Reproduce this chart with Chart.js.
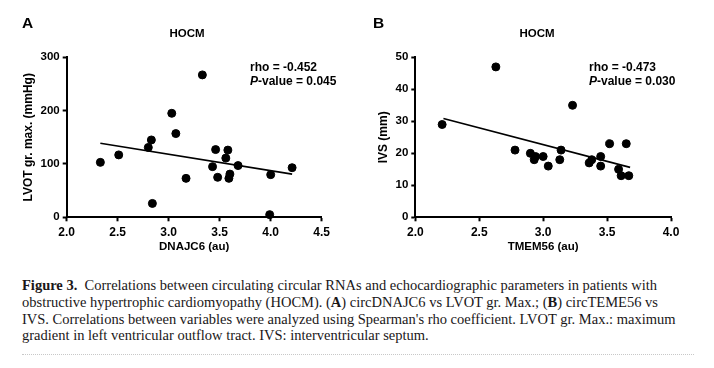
<!DOCTYPE html>
<html>
<head>
<meta charset="utf-8">
<script src="https://cdn.jsdelivr.net/npm/chart.js@4/dist/chart.umd.min.js"></script>
<style>
  body { margin: 0; background: #fff; width: 714px; height: 368px; position: relative; overflow: hidden; }
  .panel { position: absolute; top: 0; }
  .lbl { position: absolute; font-family: 'Liberation Sans', Arial, sans-serif; font-weight: bold; color: #000; white-space: nowrap; }
  .letter { font-size: 15.5px; top: 14px; }
  .ttl { font-size: 11.5px; top: 27px; width: 100px; text-align: center; }
  .stat { font-size: 12px; line-height: 14px; }
  .caption { position: absolute; left: 22px; top: 277px; width: 690px; font-family: 'Liberation Serif', 'Times New Roman', serif; font-size: 14.5px; line-height: 16.8px; color: #1a1718; white-space: nowrap; }
  .dots { position: absolute; left: 22px; top: 354px; width: 672px; border-top: 1px dotted #c8c8c8; }
</style>
</head>
<body>
<canvas id="chartA" class="panel" style="left:0px" width="340" height="262"></canvas>
<canvas id="chartB" class="panel" style="left:357px" width="340" height="262"></canvas>

<div class="lbl letter" style="left:22px">A</div>
<div class="lbl letter" style="left:373px">B</div>
<div class="lbl ttl" style="left:137px">HOCM</div>
<div class="lbl ttl" style="left:487px">HOCM</div>
<div class="lbl stat" style="left:250px;top:60px">rho = -0.452<br><i>P</i>-value = 0.045</div>
<div class="lbl stat" style="left:589px;top:60px">rho = -0.473<br><i>P</i>-value = 0.030</div>

<div class="caption">
<b>Figure 3.</b>&nbsp; Correlations between circulating circular RNAs and echocardiographic parameters in patients with<br>
obstructive hypertrophic cardiomyopathy (HOCM). (<b>A</b>) circDNAJC6 vs LVOT gr. Max.; (<b>B</b>) circTEME56 vs<br>
IVS. Correlations between variables were analyzed using Spearman's rho coefficient. LVOT gr. Max.: maximum<br>
gradient in left ventricular outflow tract. IVS: interventricular septum.
</div>
<div class="dots"></div>

<script>
// panel A: circDNAJC6 vs LVOT gr. max.
const dnajc6 = [2.33, 2.51, 2.80, 2.83, 2.84, 3.03, 3.07, 3.17, 3.33, 3.43, 3.46, 3.48, 3.56, 3.58, 3.59, 3.60, 3.68, 4.00, 3.99, 4.21]
const lvot = [103, 117, 131, 145, 26, 195, 157, 73, 267, 95, 127, 75, 111, 126, 73, 81, 97, 80, 5, 93]
const fitA_x = [2.33, 4.21]
const fitA_y = [139, 81]

// panel B: circTMEM56 vs IVS
const tmem56 = [2.21, 2.63, 2.78, 2.90, 2.94, 2.93, 3.00, 3.04, 3.14, 3.13, 3.23, 3.36, 3.38, 3.45, 3.45, 3.52, 3.59, 3.61, 3.65, 3.67]
const ivs = [29, 47, 21, 20, 19, 18, 19, 16, 21, 18, 35, 17, 18, 19, 16, 23, 15, 13, 23, 13]
const fitB_x = [2.22, 3.68]
const fitB_y = [30.9, 15.6]

const xTicksA = [2.0, 2.5, 3.0, 3.5, 4.0, 4.5]
const xTicksB = [2.0, 2.5, 3.0, 3.5, 4.0]

const FONT = "'Liberation Sans', Arial, sans-serif"

const toPoints = (xs, ys) => xs.map((x, i) => ({x: x, y: ys[i]}))

const makeChart = (id, cfg) => {
	const axisStyle = {
		border: {color: '#000', width: 2},
		grid: {display: true, drawOnChartArea: false, tickLength: 4, tickColor: '#000', tickWidth: 2},
	}
	new Chart(document.getElementById(id).getContext('2d'), {
		type: 'scatter',
		data: {
			datasets: [
				{
					data: toPoints(cfg.xs, cfg.ys),
					backgroundColor: '#000',
					borderColor: '#000',
					pointRadius: 4,
					pointHoverRadius: 4,
					clip: false
				},
				{
					data: toPoints(cfg.fitX, cfg.fitY),
					showLine: true,
					borderColor: '#000',
					borderWidth: 1.6,
					pointRadius: 0,
					clip: false
				}
			]
		},
		options: {
			responsive: false,
			animation: false,
			devicePixelRatio: 1,
			layout: {padding: {top: 57.3, right: cfg.padRight, bottom: 0, left: 0}},
			plugins: {legend: {display: false}, tooltip: {enabled: false}},
			scales: {
				x: {
					...axisStyle,
					type: 'linear',
					min: cfg.xMin, max: cfg.xMax,
					afterBuildTicks: s => { s.ticks = cfg.xTicks.map(v => ({value: v})) },
					afterFit: s => { s.height = 44.7 },
					ticks: {
						color: '#000', padding: 4, maxRotation: 0,
						font: {family: FONT, size: 12, weight: 'bold'},
						callback: v => v.toFixed(1)
					},
					title: {
						display: true, text: cfg.xTitle, color: '#000',
						padding: {top: 0, bottom: 8},
						font: {family: FONT, size: 11.5, weight: 'bold'}
					}
				},
				y: {
					...axisStyle,
					min: 0, max: cfg.yMax,
					afterFit: s => { s.width = cfg.yWidth },
					ticks: {
						color: '#000', padding: 3, stepSize: cfg.yStep,
						font: {family: FONT, size: 11.5, weight: 'bold'}
					},
					title: {
						display: true, text: cfg.yTitle, color: '#000',
						padding: {top: cfg.yTitlePad, bottom: 0},
						font: {family: FONT, size: 12, weight: 'bold'}
					}
				}
			}
		}
	})
}

makeChart('chartA', {
	xs: dnajc6, ys: lvot, fitX: fitA_x, fitY: fitA_y,
	xMin: 2, xMax: 4.5, xTicks: xTicksA, yMax: 300, yStep: 100,
	xTitle: 'DNAJC6 (au)', yTitle: 'LVOT gr. max. (mmHg)',
	yWidth: 66.7, yTitlePad: 21, padRight: 18.3
})

makeChart('chartB', {
	xs: tmem56, ys: ivs, fitX: fitB_x, fitY: fitB_y,
	xMin: 2, xMax: 4, xTicks: xTicksB, yMax: 50, yStep: 10,
	xTitle: 'TMEM56 (au)', yTitle: 'IVS (mm)',
	yWidth: 58.3, yTitlePad: 19, padRight: 26
})
</script>
</body>
</html>
